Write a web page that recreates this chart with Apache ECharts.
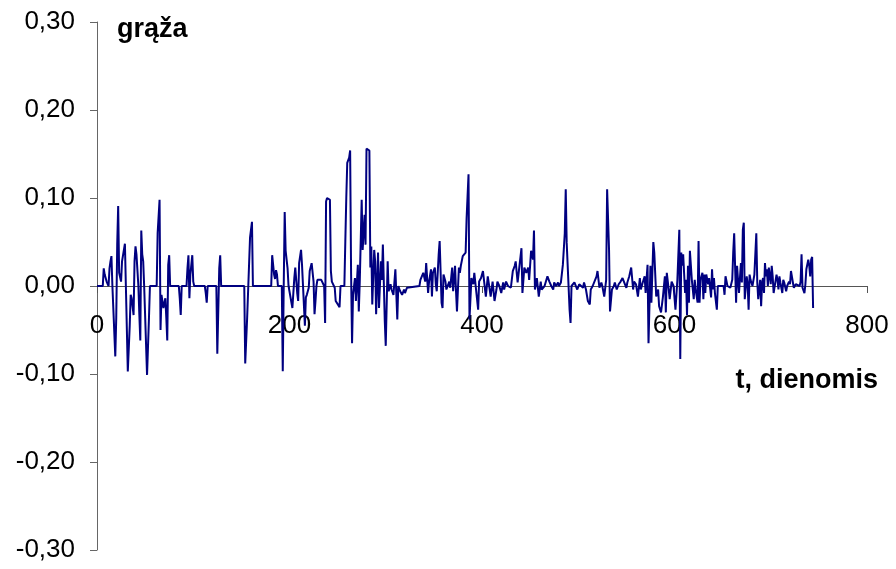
<!DOCTYPE html>
<html>
<head>
<meta charset="utf-8">
<script src="https://cdn.jsdelivr.net/npm/echarts@6/dist/echarts.min.js"></script>
<style>
  html, body { margin: 0; padding: 0; background: #fff; }
  #chart { width: 896px; height: 569px; }
</style>
</head>
<body>
<div id="chart"></div>
<script>
// Daily "grąža" (return) series: day index and value
const days = [
  0,6,7,8,10,12,13,14,15,16,18,19,20,21,22,23,25,26,28,29,30,32,34,35,36,38,39,40,41,42,43,44,45,46,47,48,49,51,52,54,55,
  62,63,65,66,67,69,71,72,73,74,75,76,85,86,87,88,93,94,95,96,97,98,99,100,101,112,113,114,115,124,125,127,128,129,
  153,154,156,159,161,162,181,182,184,185,186,187,188,192,193,194,195,196,198,
  199,203,205,206,208,209,210,211,212,213,214,216,217,218,220,221,223,225,226,227,228,229,231,233,235,236,237,238,239,240,242,243,244,246,247,248,250,252,253,
  257,258,259,260,262,263,264,265,266,268,269,271,272,273,275,276,278,279,280,281,283,284,285,286,288,289,290,292,293,295,296,297,299,300,302,303,305,306,308,310,312,313,315,317,319,320,322,324,
  335,336,338,339,340,341,342,344,345,347,348,349,351,352,353,355,356,358,359,360,362,363,365,366,367,369,370,372,373,374,376,377,378,380,381,383,384,385,386,387,389,391,392,394,396,397,399,
  401,404,406,408,409,411,413,415,416,418,420,422,423,425,427,428,430,432,434,435,437,439,441,442,444,446,448,449,451,453,454,455,457,459,461,462,465,468,470,472,474,475,477,479,480,482,484,486,487,488,490,491,492,493,
  496,498,499,501,503,505,506,508,510,512,513,515,517,519,520,522,524,525,527,529,530,532,533,535,537,538,540,542,544,546,548,550,551,553,555,557,558,560,562,564,565,567,569,570,572,573,575,576,578,579,581,583,584,586,588,590,591,592,594,595,597,599,
  601,603,605,606,607,608,609,611,612,613,614,615,616,618,619,620,621,622,624,625,626,627,629,630,631,632,633,635,636,638,639,640,641,642,644,645,651,652,653,655,657,658,660,661,662,664,665,666,667,669,670,671,672,673,675,676,677,678,679,681,
  683,684,685,686,687,688,689,690,691,692,693,694,695,696,697,698,700,701,702,703,704,706,707,708,709,710,712,713,714,716,717,719,720,721,723,724,726,727,728,730,731,732,733,735,736,737,739,740,741,742,743,744
];
const values = [
  0,0,0.020,0.013,0.005,0,0.020,0.028,0.034,0,0,-0.080,-0.036,0.047,0.091,0.015,0.005,0.028,0.028,0.048,0,-0.097,-0.045,-0.010,-0.014,-0.033,0.028,0.045,0.036,0.037,0,-0.033,-0.062,0.063,0.036,0.028,0,0,-0.101,-0.036,0,
  0,0.060,0.098,-0.050,-0.010,-0.025,-0.014,-0.036,-0.062,0.024,0.035,0,0,-0.014,-0.033,0,0,0.020,0.035,-0.014,0.013,0.013,0.035,0.005,0,0,-0.008,-0.019,0,0,-0.077,0.020,0.035,0,
  0,-0.088,-0.036,0.055,0.073,0,0,0.035,0.013,0.008,0.018,0.013,0,0,-0.097,0,0.084,0.040,0.020,
  0,-0.025,0.009,0.021,-0.008,-0.017,0.026,0.028,0.041,0.024,0.023,-0.045,-0.013,-0.010,-0.002,0.017,0.026,0.005,-0.032,-0.017,0,0.007,0.005,0.007,0.005,0,-0.042,0.096,0.100,0.102,0.098,0.017,0.005,0.004,-0.002,-0.017,-0.019,-0.024,0,
  0,0.051,0.100,0.140,0.146,0.154,0.013,-0.065,-0.010,0.009,-0.017,0.024,-0.029,0.005,0.098,0.041,0.081,0.047,0.156,0.155,0.154,0.021,0.045,-0.021,0.041,0.028,-0.032,0.038,-0.025,0.028,0.007,0.047,-0.040,-0.068,0.028,-0.006,0.002,-0.004,-0.010,0.019,-0.038,0,-0.006,-0.010,-0.004,-0.008,-0.002,0,
  0,0.007,0.009,0.015,0.017,0.005,0.026,-0.008,0.005,0.019,-0.012,0.015,0.021,0.002,-0.006,0.036,0.051,-0.019,-0.025,0.013,0.005,-0.004,-0.006,0.005,-0.002,0.021,-0.006,0.023,-0.006,-0.029,0.021,0.015,0.023,0.034,0.036,0.038,0.077,0.102,0.127,-0.038,0.009,0.002,0.015,0.017,-0.027,0.005,0.009,
  0.017,-0.012,0.011,-0.004,-0.012,0.005,-0.017,-0.004,0.005,0,-0.008,0.004,-0.004,0.005,0,0.002,-0.002,0.017,0.023,0.028,0.004,0.005,0.043,-0.008,0.021,0.015,0.021,0.007,0.040,0.030,0.063,-0.004,0.009,-0.012,0.005,-0.004,0,0.011,0.005,0,-0.004,0.004,0,0.004,0,0.004,0.024,0.060,0.110,0.049,0.049,-0.027,-0.042,0,
  0.004,0.005,-0.004,0.002,0.004,-0.002,0.004,-0.004,-0.017,-0.021,-0.004,0,-0.002,0.011,0.017,-0.002,0.004,0,-0.012,0.007,0.110,0.041,-0.029,-0.004,0,0.004,-0.004,0.002,0.005,0.009,0.007,-0.002,0.004,0.011,0.021,-0.004,0.005,0.002,-0.012,0.009,-0.004,0.004,0.011,-0.008,0.024,-0.065,0.023,-0.019,0.050,0.038,-0.012,-0.004,-0.023,-0.030,-0.012,0.011,-0.030,0.015,-0.004,-0.015,0.005,0,
  -0.027,0.007,0.064,-0.083,0.038,0.023,0.036,-0.008,0.007,-0.033,0.023,-0.019,0.040,0.007,-0.004,-0.015,0.007,-0.004,-0.019,0.051,-0.019,0.007,0.015,-0.015,0.013,-0.008,0.013,0.002,0.009,-0.013,0.019,-0.004,0.009,-0.008,-0.027,0,0,-0.010,0.011,0,0.002,-0.002,0.007,0.038,0.060,-0.019,0.023,0.007,-0.008,0.026,0.004,0.064,0.072,-0.015,0.011,0.002,-0.027,0.013,0.007,0,
  0.013,0.015,0.060,0.004,-0.015,-0.004,0.007,-0.023,0.004,0.009,-0.008,0.026,0.011,0.019,0,0.021,0.002,0.023,0.011,-0.008,-0.010,0.013,0.007,-0.004,0.011,0.004,-0.008,0.007,0.004,-0.006,0,0.005,0.002,0.017,0.004,-0.002,0.002,0,0.004,0,0.005,0.036,-0.002,-0.008,0.002,0.019,0.030,0.023,0.011,0.030,0.033,-0.025
];

// Axis ranges and tick steps
const xTicks = { min: 0, max: 800, step: 200 };
const yTicks = { min: -0.3, max: 0.3, step: 0.1 };
const yTitle = 'grąža';
const xTitle = 't, dienomis';

const FONT = '"Liberation Sans", Arial, Helvetica, sans-serif';

// Plot area
const GRID = { left: 97, right: 29, top: 22, bottom: 19 };
const plotHeight = 569 - GRID.top - GRID.bottom;
// Shift the horizontal axis (line, ticks and labels) up to the value 0
const zeroShift = -plotHeight * (0 - yTicks.min) / (yTicks.max - yTicks.min);

function commaFormat(v) {
  const r = Math.round(v * 100) / 100;
  const s = Math.abs(r).toFixed(2).replace('.', ',');
  return (r < 0 ? '-' : '') + s;
}

const chart = echarts.init(document.getElementById('chart'), null, { renderer: 'canvas' });

chart.setOption({
  animation: false,
  backgroundColor: '#ffffff',
  grid: Object.assign({ containLabel: false, outerBoundsMode: 'none' }, GRID),
  xAxis: {
    type: 'value',
    position: 'bottom',
    offset: zeroShift,
    min: xTicks.min, max: xTicks.max, interval: xTicks.step,
    axisLine: { show: true, onZero: false, lineStyle: { color: '#555', width: 1 } },
    axisTick: { show: true, inside: false, length: 7, lineStyle: { color: '#555' } },
    axisLabel: { color: '#000', fontFamily: FONT, fontSize: 26, margin: 27 },
    splitLine: { show: false }
  },
  yAxis: {
    type: 'value',
    min: yTicks.min, max: yTicks.max, interval: yTicks.step,
    axisLine: { show: true, lineStyle: { color: '#666', width: 1 } },
    axisTick: { show: true, inside: false, length: 7, lineStyle: { color: '#666' } },
    axisLabel: { color: '#000', fontFamily: FONT, fontSize: 26, margin: 22, formatter: commaFormat },
    splitLine: { show: false }
  },
  graphic: [
    { type: 'text', left: 117, top: 16,
      style: { text: yTitle, fill: '#000', font: 'bold 27px ' + FONT } },
    { type: 'text', right: 18, top: 367,
      style: { text: xTitle, fill: '#000', font: 'bold 27px ' + FONT } }
  ],
  series: [{
    type: 'line',
    data: days.map((d, i) => [d, values[i]]),
    showSymbol: false,
    symbol: 'none',
    sampling: null,
    lineStyle: { color: '#000080', width: 2 },
    itemStyle: { color: '#000080' }
  }]
});
</script>
</body>
</html>
